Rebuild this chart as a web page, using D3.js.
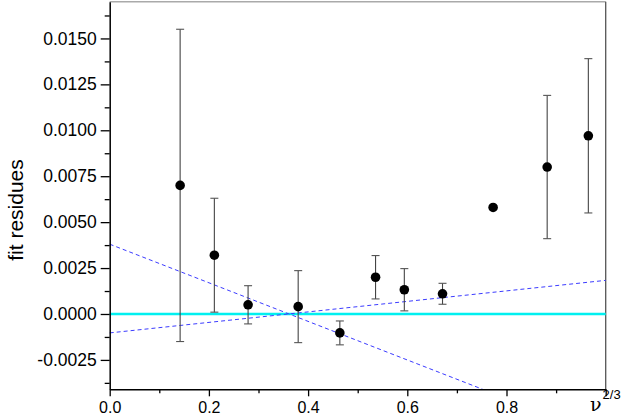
<!DOCTYPE html>
<html>
<head>
<meta charset="utf-8">
<script src="https://cdn.jsdelivr.net/npm/d3@7/dist/d3.min.js"></script>
<style>
  html, body { margin: 0; padding: 0; background: #fff; }
  svg { display: block; }
  text { font-family: "Liberation Sans", Arial, Helvetica, sans-serif; }
</style>
</head>
<body>
<svg id="chart" width="623" height="416"></svg>
<script>
// ---- data ----
const nu23    = [0.142, 0.211, 0.279, 0.380, 0.464, 0.536, 0.594, 0.671, 0.773, 0.882, 0.965];
const resid   = [0.0070, 0.0032, 0.0005, 0.0004, -0.00103, 0.0020, 0.00132, 0.0011, 0.0058, 0.0080, 0.0097];
const residErr= [0.0085, 0.0031, 0.00104, 0.00196, 0.00065, 0.00118, 0.00115, 0.00057, 0.0001, 0.0039, 0.0042];
const fitLineA = [[0.0, 0.0038], [0.752, -0.0041]];
const fitLineB = [[0.0, -0.00103], [1.0, 0.00183]];
const zeroLine = [[0.0, 0.0], [1.0, 0.0]];
const xMajorTicks = [0.0, 0.2, 0.4, 0.6, 0.8, 1.0];
const xTickLabels = ["0.0", "0.2", "0.4", "0.6", "0.8", ""];
const xMinorTicks = [0.1, 0.3, 0.5, 0.7, 0.9];
const yMajorTicks = [-0.0025, 0.0, 0.0025, 0.005, 0.0075, 0.01, 0.0125, 0.015];
const yTickLabels = ["-0.0025", "0.0000", "0.0025", "0.0050", "0.0075", "0.0100", "0.0125", "0.0150"];
const yMinorTicks = [-0.00375, -0.00125, 0.00125, 0.00375, 0.00625, 0.00875, 0.01125, 0.01375, 0.01625];

// ---- layout ----
const L = 109.7, R = 605.7, T = 1.7, B = 389.3;
const svg = d3.select("#chart");
const x = d3.scaleLinear().domain([0, 1]).range([L, R]);
const y = d3.scaleLinear().domain([-0.0041, 0.017]).range([B, T]);

// frame (top & right)
svg.append("line").attr("x1", L).attr("x2", R).attr("y1", T).attr("y2", T)
  .attr("stroke", "#aaaaaa").attr("stroke-width", 1.5);
svg.append("line").attr("x1", R).attr("x2", R).attr("y1", T).attr("y2", B)
  .attr("stroke", "#555555").attr("stroke-width", 1.3);

// fit lines
const line = d3.line().x(d => x(d[0])).y(d => y(d[1]));
svg.append("path").datum(zeroLine).attr("d", line)
  .attr("stroke", "#00f0f0").attr("stroke-width", 2.6).attr("fill", "none");
[fitLineA, fitLineB].forEach(l => {
  svg.append("path").datum(l).attr("d", line)
    .attr("stroke", "#3c3cff").attr("stroke-width", 1).attr("stroke-dasharray", "4,3")
    .attr("fill", "none");
});

// error bars
const pts = nu23.map((v, i) => ({x: v, y: resid[i], e: residErr[i]}));
const eb = svg.append("g");
pts.forEach(p => {
  eb.append("line").attr("x1", x(p.x)).attr("x2", x(p.x))
    .attr("y1", y(p.y - p.e)).attr("y2", y(p.y + p.e))
    .attr("stroke", "#444").attr("stroke-width", 1.1);
  [p.y - p.e, p.y + p.e].forEach(v => {
    eb.append("line").attr("x1", x(p.x) - 4).attr("x2", x(p.x) + 4)
      .attr("y1", y(v)).attr("y2", y(v))
      .attr("stroke", "#555").attr("stroke-width", 1.1);
  });
});

// points
svg.append("g").selectAll("circle").data(pts).join("circle")
  .attr("cx", d => x(d.x)).attr("cy", d => y(d.y)).attr("r", 4.8).attr("fill", "#000");

// axes
const xAxis = svg.append("g").attr("transform", `translate(0,${B})`)
  .call(d3.axisBottom(x).tickValues(xMajorTicks).tickSize(7).tickSizeOuter(0)
    .tickFormat((d, i) => xTickLabels[i]));
svg.append("g").attr("transform", `translate(0,${B})`)
  .call(d3.axisBottom(x).tickValues(xMinorTicks).tickSize(4).tickSizeOuter(0).tickFormat(""))
  .select(".domain").remove();
const yAxis = svg.append("g").attr("transform", `translate(${L},0)`)
  .call(d3.axisLeft(y).tickValues(yMajorTicks).tickSize(9).tickSizeOuter(0)
    .tickFormat((d, i) => yTickLabels[i]));
svg.append("g").attr("transform", `translate(${L},0)`)
  .call(d3.axisLeft(y).tickValues(yMinorTicks).tickSize(5).tickSizeOuter(0).tickFormat(""))
  .select(".domain").remove();

svg.selectAll(".domain").attr("stroke", "#000").attr("stroke-width", 1.5);
svg.selectAll(".tick line").attr("stroke", "#000").attr("stroke-width", 1.3);
xAxis.selectAll("text").attr("font-size", 16).attr("fill", "#000").attr("dy", "0.85em")
  .attr("font-family", "'Liberation Sans', Arial, sans-serif");
yAxis.selectAll("text").attr("font-size", 17.5).attr("fill", "#000").attr("x", -13)
  .attr("font-family", "'Liberation Sans', Arial, sans-serif");

// axis titles
svg.append("text").attr("transform", "translate(23,210) rotate(-90)")
  .attr("text-anchor", "middle").attr("font-size", 21).attr("fill", "#000")
  .text("fit residues");
const xt = svg.append("text").attr("x", 590).attr("y", 411).attr("fill", "#000");
xt.append("tspan").attr("font-size", 19).attr("font-family", "'DejaVu Serif', 'Liberation Serif', serif").text("ν");
xt.append("tspan").attr("font-size", 13).attr("dy", -12).attr("dx", 1).text("2/3");
</script>
</body>
</html>
